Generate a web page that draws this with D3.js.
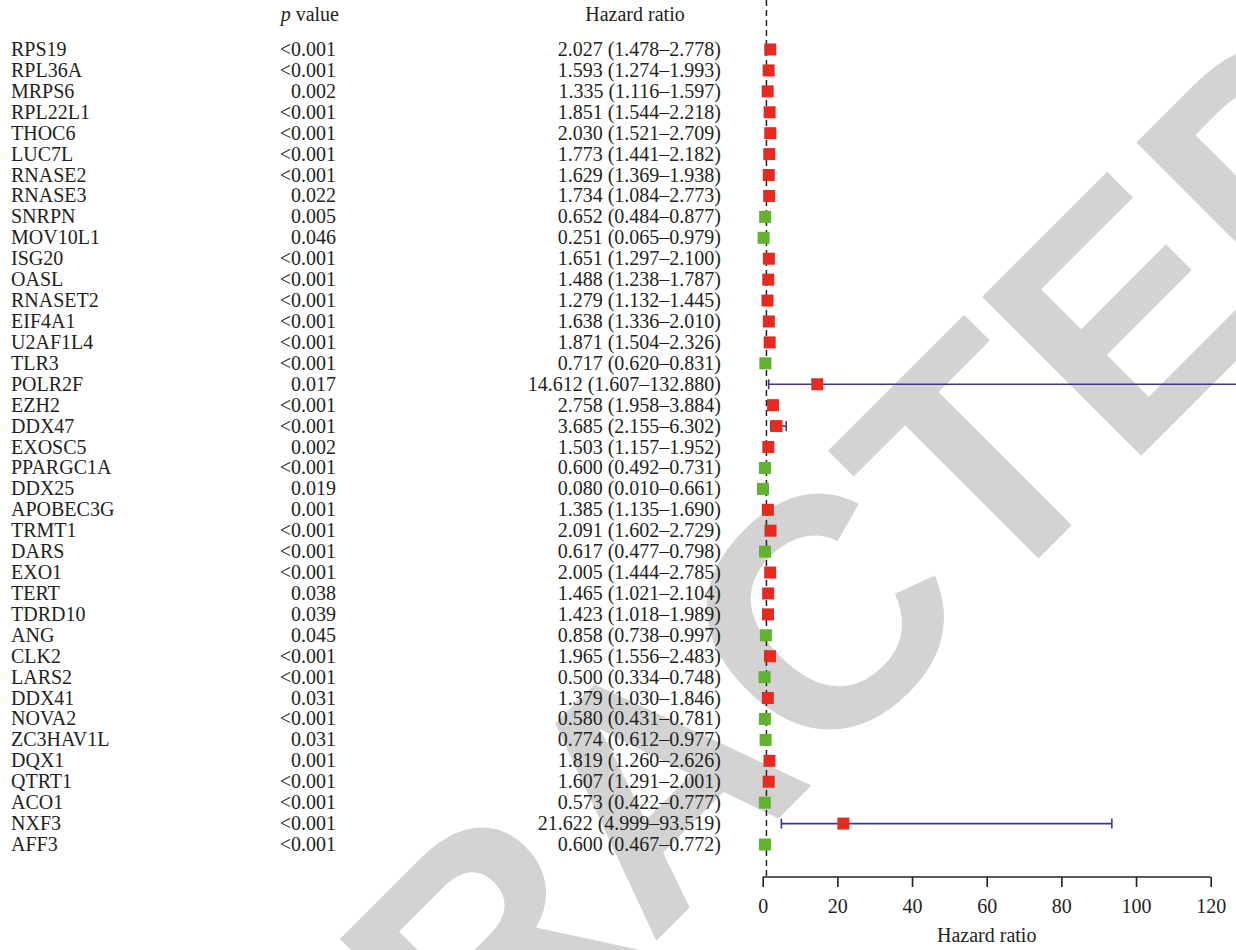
<!DOCTYPE html>
<html>
<head>
<meta charset="utf-8">
<script src="https://cdn.jsdelivr.net/npm/d3@7"></script>
<style>
  html, body { margin: 0; padding: 0; background: #fff; }
  svg { display: block; }
</style>
</head>
<body>
<svg id="chart" width="1236" height="950"></svg>
<script>
const genes = ["RPS19","RPL36A","MRPS6","RPL22L1","THOC6","LUC7L","RNASE2","RNASE3","SNRPN","MOV10L1","ISG20","OASL","RNASET2","EIF4A1","U2AF1L4","TLR3","POLR2F","EZH2","DDX47","EXOSC5","PPARGC1A","DDX25","APOBEC3G","TRMT1","DARS","EXO1","TERT","TDRD10","ANG","CLK2","LARS2","DDX41","NOVA2","ZC3HAV1L","DQX1","QTRT1","ACO1","NXF3","AFF3"];
const pValues = ["<0.001","<0.001","0.002","<0.001","<0.001","<0.001","<0.001","0.022","0.005","0.046","<0.001","<0.001","<0.001","<0.001","<0.001","<0.001","0.017","<0.001","<0.001","0.002","<0.001","0.019","0.001","<0.001","<0.001","<0.001","0.038","0.039","0.045","<0.001","<0.001","0.031","<0.001","0.031","0.001","<0.001","<0.001","<0.001","<0.001"];
const hazardRatio = [2.027,1.593,1.335,1.851,2.030,1.773,1.629,1.734,0.652,0.251,1.651,1.488,1.279,1.638,1.871,0.717,14.612,2.758,3.685,1.503,0.600,0.080,1.385,2.091,0.617,2.005,1.465,1.423,0.858,1.965,0.500,1.379,0.580,0.774,1.819,1.607,0.573,21.622,0.600];
const ciLower = [1.478,1.274,1.116,1.544,1.521,1.441,1.369,1.084,0.484,0.065,1.297,1.238,1.132,1.336,1.504,0.620,1.607,1.958,2.155,1.157,0.492,0.010,1.135,1.602,0.477,1.444,1.021,1.018,0.738,1.556,0.334,1.030,0.431,0.612,1.260,1.291,0.422,4.999,0.467];
const ciUpper = [2.778,1.993,1.597,2.218,2.709,2.182,1.938,2.773,0.877,0.979,2.100,1.787,1.445,2.010,2.326,0.831,132.880,3.884,6.302,1.952,0.731,0.661,1.690,2.729,0.798,2.785,2.104,1.989,0.997,2.483,0.748,1.846,0.781,0.977,2.626,2.001,0.777,93.519,0.772];
const xTicks = [0,20,40,60,80,100,120];

const svg = d3.select("#chart");
const textColor = "#231f20";
const serif = "'Liberation Serif', 'Times New Roman', serif";
const fs = 20;

// watermark
svg.append("text")
  .attr("x", 734).attr("y", 863)
  .attr("text-anchor", "middle")
  .attr("transform", "rotate(-45,734,863)")
  .style("font-family", "'Liberation Sans', Arial, sans-serif")
  .style("font-weight", "bold")
  .style("font-size", "327px")
  .attr("fill", "#d3d3d3")
  .text("RETRACTED");

const x = d3.scaleLinear().domain([0, 120]).range([762.7, 1210.7]);
const y = d3.scalePoint().domain(genes).range([49.5, 844.5]);
const axisY = 877;

const rows = genes.map((g, i) => ({g, p: pValues[i], hr: hazardRatio[i], lo: ciLower[i], hi: ciUpper[i]}));
const f3 = d3.format(".3f");

// headers
const hdr = svg.append("g").attr("fill", textColor).style("font-family", serif).style("font-size", fs + "px");
const pv = hdr.append("text").attr("x", 339).attr("y", 21).attr("text-anchor", "end");
pv.append("tspan").style("font-style", "italic").text("p");
pv.append("tspan").text(" value");
hdr.append("text").attr("x", 635).attr("y", 21).attr("text-anchor", "middle").text("Hazard ratio");

// text columns
const tg = svg.append("g").attr("fill", textColor).style("font-family", serif).style("font-size", fs + "px");
tg.selectAll("text.gene").data(rows).join("text").attr("class", "gene")
  .attr("x", 11).attr("y", d => y(d.g) + 6.5).text(d => d.g);
tg.selectAll("text.pv").data(rows).join("text").attr("class", "pv")
  .attr("x", 336).attr("y", d => y(d.g) + 6.5).attr("text-anchor", "end").text(d => d.p);
tg.selectAll("text.hr").data(rows).join("text").attr("class", "hr")
  .attr("x", 721).attr("y", d => y(d.g) + 6.5).attr("text-anchor", "end")
  .text(d => `${f3(d.hr)} (${f3(d.lo)}\u2013${f3(d.hi)})`);

// reference line
svg.append("line")
  .attr("x1", x(1)).attr("x2", x(1)).attr("y1", 0).attr("y2", axisY)
  .attr("stroke", "#222").attr("stroke-width", 1.5).attr("stroke-dasharray", "6,4");

// error bars
const eb = svg.append("g").attr("stroke", "#3b3894").attr("stroke-width", 1.6).attr("fill", "none");
eb.selectAll("line.ci").data(rows).join("line").attr("class", "ci")
  .attr("x1", d => x(d.lo)).attr("x2", d => x(d.hi)).attr("y1", d => y(d.g)).attr("y2", d => y(d.g));
eb.selectAll("line.capl").data(rows).join("line").attr("class", "capl")
  .attr("x1", d => x(d.lo)).attr("x2", d => x(d.lo)).attr("y1", d => y(d.g) - 5).attr("y2", d => y(d.g) + 5);
eb.selectAll("line.caph").data(rows).join("line").attr("class", "caph")
  .attr("x1", d => x(d.hi)).attr("x2", d => x(d.hi)).attr("y1", d => y(d.g) - 5).attr("y2", d => y(d.g) + 5);

// squares
const sz = 12;
svg.append("g").selectAll("rect").data(rows).join("rect")
  .attr("x", d => x(d.hr) - sz / 2).attr("y", d => y(d.g) - sz / 2)
  .attr("width", sz).attr("height", sz)
  .attr("fill", d => d.hr > 1 ? "#e62a1f" : "#63b22f");

// axis
const ax = svg.append("g").attr("transform", `translate(0,${axisY})`)
  .call(d3.axisBottom(x).tickValues(xTicks).tickSize(10).tickPadding(12).tickFormat(d3.format("d")));
ax.select(".domain").attr("stroke", "#222").attr("stroke-width", 1.6).attr("d", `M${x(0)},0H${x(120)}`);
ax.selectAll(".tick line").attr("stroke", "#222").attr("stroke-width", 1.6);
ax.selectAll(".tick text").attr("fill", textColor).style("font-family", serif).style("font-size", fs + "px");

svg.append("text").attr("x", x(60)).attr("y", 942).attr("text-anchor", "middle")
  .attr("fill", textColor).style("font-family", serif).style("font-size", fs + "px").text("Hazard ratio");
</script>
</body>
</html>
